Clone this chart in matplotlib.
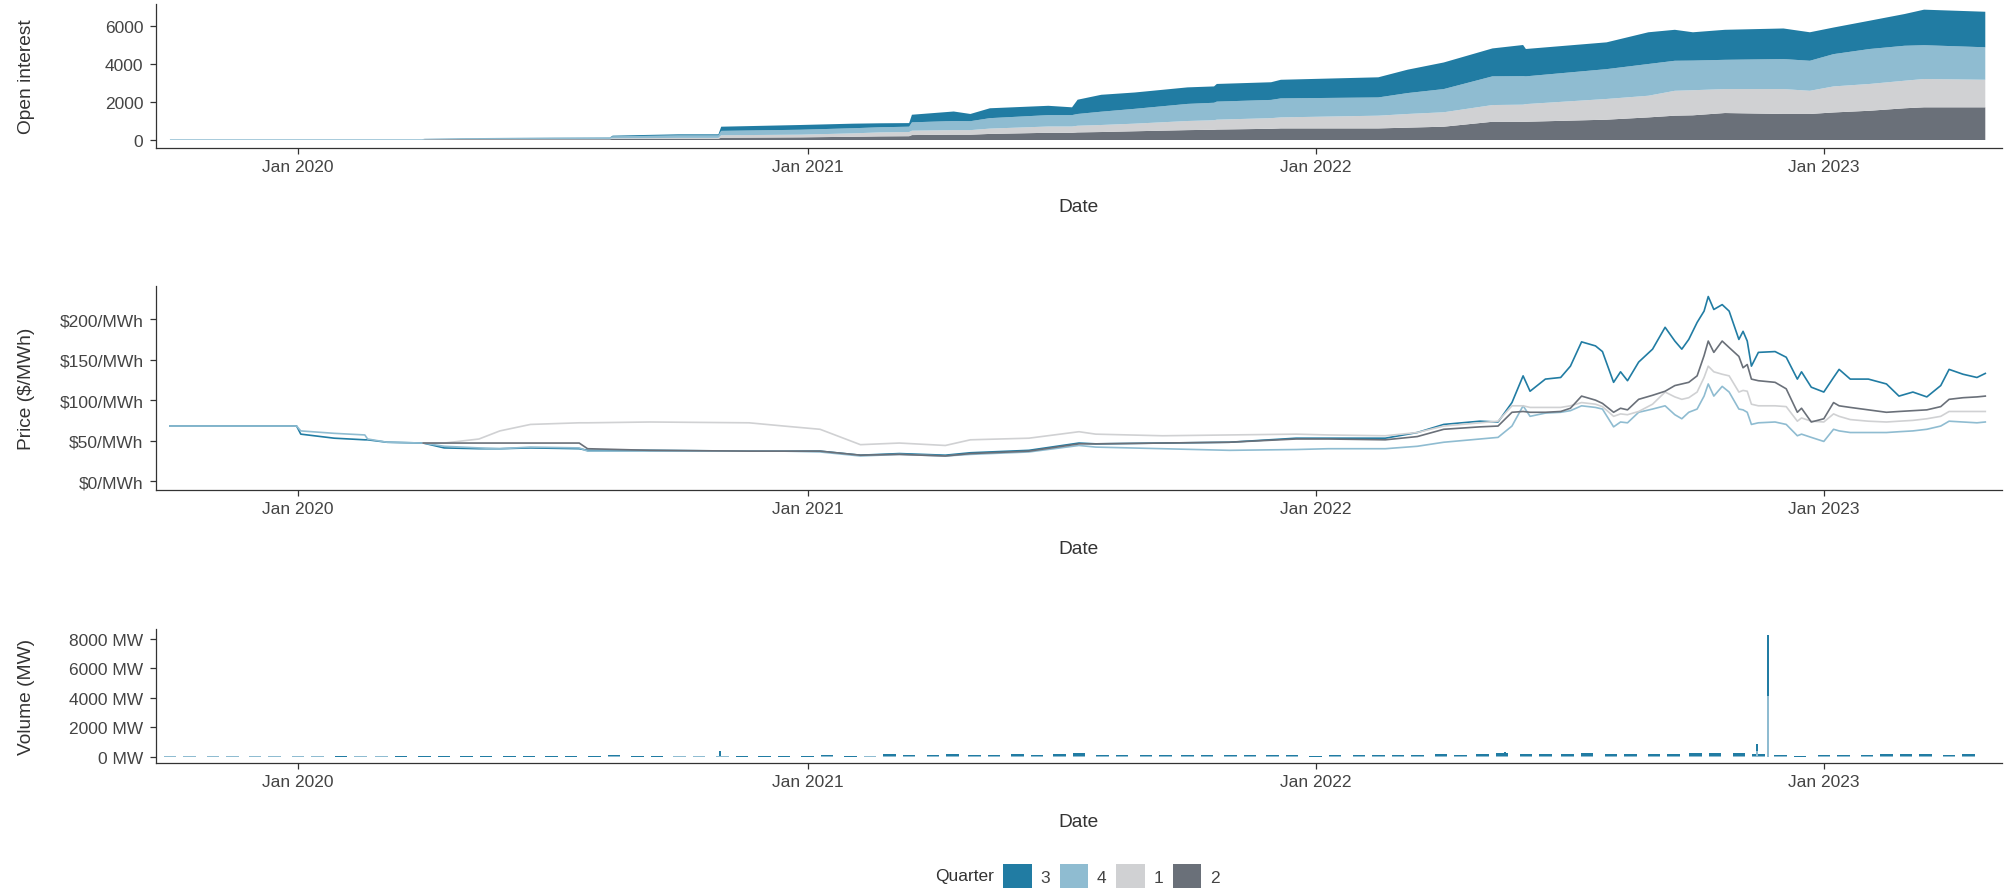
import numpy as np
import pandas as pd
import matplotlib
matplotlib.use("Agg")
import matplotlib.pyplot as plt
import matplotlib.dates as mdates
from matplotlib.patches import Patch

plt.rcParams["font.family"] = ["Liberation Sans", "DejaVu Sans"]

nan = np.nan

# ── Colours per quarter ───────────────────────────────────────────────────────
COL = {"3": "#217ca3", "4": "#8fbcd1", "1": "#d0d1d3", "2": "#6a7079"}
LEGEND_ORDER = ["3", "4", "1", "2"]

# ── Open interest (stacked area) ──────────────────────────────────────────────
oi_dates = [
    "2019-10-01", "2020-03-30", "2020-04-01", "2020-04-28", "2020-08-12",
    "2020-08-14", "2020-09-30", "2020-10-29", "2020-10-31", "2020-12-27",
    "2021-02-03", "2021-02-22", "2021-03-15", "2021-03-17", "2021-04-16",
    "2021-04-28", "2021-05-12", "2021-06-23", "2021-07-10", "2021-07-14",
    "2021-07-31", "2021-08-24", "2021-10-01", "2021-10-20", "2021-10-22",
    "2021-11-30", "2021-12-07", "2022-02-15", "2022-03-08", "2022-04-03",
    "2022-05-08", "2022-05-30", "2022-06-01", "2022-07-29", "2022-08-28",
    "2022-09-16", "2022-09-29", "2022-10-22", "2022-12-03", "2022-12-22",
    "2023-01-08", "2023-02-03", "2023-02-28", "2023-03-14", "2023-04-27",
]
oi_q2 = [0, 0, 30, 40, 40, 60, 70, 70, 120, 140, 170, 190, 200, 260, 280,
         280, 320, 380, 380, 400, 420, 460, 520, 540, 550, 590, 610, 610, 650,
         700, 960, 960, 960, 1070, 1190, 1280, 1300, 1420, 1370, 1370, 1450,
         1540, 1670, 1720, 1720]
oi_q1 = [0, 0, 0, 10, 15, 30, 40, 40, 130, 140, 180, 210, 220, 230, 240,
         240, 280, 330, 330, 350, 370, 400, 480, 500, 520, 560, 580, 670, 720,
         760, 880, 900, 930, 1090, 1140, 1310, 1320, 1260, 1310, 1220, 1370,
         1410, 1450, 1490, 1450]
oi_q4 = [40, 40, 40, 40, 60, 100, 130, 130, 230, 260, 270, 270, 280, 440,
         480, 470, 550, 600, 600, 620, 700, 780, 900, 920, 950, 960, 1000, 960,
         1100, 1220, 1510, 1500, 1460, 1570, 1670, 1580, 1560, 1540, 1580,
         1580, 1700, 1840, 1840, 1780, 1710]
oi_q3 = [0, 0, 0, 10, 20, 40, 60, 60, 220, 250, 240, 210, 190, 400, 500,
         380, 520, 490, 410, 750, 890, 860, 870, 860, 930, 930, 980, 1060,
         1230, 1400, 1470, 1640, 1440, 1410, 1670, 1630, 1490, 1580, 1610,
         1500, 1400, 1490, 1670, 1870, 1870]

# ── Price ($/MWh) ─────────────────────────────────────────────────────────────
price_dates = [
    "2019-10-01", "2019-12-31", "2020-01-03", "2020-01-27", "2020-02-18",
    "2020-02-20", "2020-03-05", "2020-03-31", "2020-04-15", "2020-05-10",
    "2020-05-25", "2020-06-16", "2020-07-21", "2020-07-27", "2020-09-10",
    "2020-11-20", "2020-12-15", "2021-01-10", "2021-02-08", "2021-03-08",
    "2021-04-10", "2021-04-28", "2021-06-09", "2021-07-15", "2021-07-27",
    "2021-09-13", "2021-10-31", "2021-12-18", "2022-01-10", "2022-02-20",
    "2022-03-15", "2022-04-03", "2022-04-29", "2022-05-12", "2022-05-22",
    "2022-05-30", "2022-06-04", "2022-06-15", "2022-06-26", "2022-07-03",
    "2022-07-11", "2022-07-21", "2022-07-26", "2022-08-03", "2022-08-08",
    "2022-08-13", "2022-08-21", "2022-08-31", "2022-09-09", "2022-09-16",
    "2022-09-21", "2022-09-26", "2022-10-02", "2022-10-07", "2022-10-10",
    "2022-10-14", "2022-10-20", "2022-10-25", "2022-11-01", "2022-11-04",
    "2022-11-07", "2022-11-10", "2022-11-15", "2022-11-27", "2022-12-05",
    "2022-12-13", "2022-12-16", "2022-12-23", "2023-01-01", "2023-01-08",
    "2023-01-12", "2023-01-20", "2023-02-02", "2023-02-15", "2023-02-24",
    "2023-03-06", "2023-03-16", "2023-03-26", "2023-04-01", "2023-04-11",
    "2023-04-21", "2023-04-27",
]
price_q3 = [68, 68, 58, 53, 51, 51, 48, 47, 41, 40, 40, 41, 40, 38, 38, 37,
            37, 37, 32, 34, 32, 35, 38, 47, 46, 47, 48, 53, 53, 53, 60, 70,
            74, 73, 97, 130, 111, 126, 128, 142, 172, 167, 160, 122, 135, 124,
            147, 163, 190, 173, 163, 175, 196, 210, 228, 212, 218, 210, 175,
            185, 173, 142, 159, 160, 153, 126, 135, 116, 110, 128, 138, 126,
            126, 120, 105, 110, 104, 118, 138, 132, 128, 133]
price_q4 = [68, 68, 62, 59, 57, 52, 48, 47, 43, 41, 40, 42, 41, 37, 37, 37,
            37, 36, 31, 33, 31, 33, 36, 44, 42, 40, 38, 39, 40, 40, 43, 48,
            52, 54, 68, 93, 80, 84, 85, 87, 93, 91, 89, 67, 73, 72, 85, 89,
            93, 82, 77, 85, 89, 105, 120, 105, 117, 110, 89, 88, 85, 70, 72,
            73, 70, 56, 58, 54, 49, 64, 62, 60, 60, 60, 61, 62, 64, 68, 74,
            73, 72, 73]
price_q1 = [nan, nan, nan, nan, nan, nan, nan, 47, 47, 52, 62, 70, 72, 72,
            73, 72, 68, 64, 45, 47, 44, 51, 53, 61, 58, 56, 57, 58, 57, 56,
            60, 68, 72, 74, 93, 93, 91, 91, 91, 93, 97, 95, 92, 80, 83, 82, 86,
            95, 110, 104, 101, 103, 110, 128, 142, 135, 132, 130, 110, 112,
            111, 95, 93, 93, 92, 74, 78, 74, 73, 83, 80, 76, 74, 73, 74, 75,
            77, 80, 86, 86, 86, 86]
price_q2 = [nan, nan, nan, nan, nan, nan, nan, 47, 47, 47, 47, 47, 47, 40,
            38, 37, 37, 37, 32, 33, 31, 34, 37, 46, 46, 47, 48, 52, 52, 51,
            55, 64, 67, 68, 85, 86, 85, 85, 86, 90, 105, 100, 96, 85, 90, 88,
            101, 106, 111, 118, 120, 122, 130, 155, 173, 159, 173, 165, 154,
            140, 144, 126, 124, 122, 114, 85, 90, 73, 77, 97, 93, 91, 88, 85,
            86, 87, 88, 92, 101, 103, 104, 105]

# ── Volume (MW), semi-monthly grid from Oct 2019 to Apr 2023 ──────────────────
vol_q3 = [
    15, 20, 15, 25, 20, 15,
    30, 25, 35, 30, 25, 30, 35, 30, 25, 30, 35, 25,
    30, 40, 30, 90, 45, 40, 60, 50, 60, 60, 45, 50,
    60, 70, 50, 60, 120, 80, 100, 150, 90, 110, 140, 80,
    120, 200, 100, 90, 80, 100, 90, 80, 110, 90, 80, 70,
    60, 70, 80, 90, 80, 100, 120, 110, 150, 180, 150, 130,
    140, 200, 150, 120, 130, 140, 160, 180, 170, 150, 110, 30,
    90, 100, 110, 120, 130, 150, 110, 120,
]
vol_q4 = [
    40, 45, 40, 50, 45, 40,
    35, 40, 30, 35, 40, 30, 20, 25, 30, 20, 25, 30,
    25, 20, 30, 40, 30, 25, 40, 35, 35, 30, 25, 30,
    30, 35, 30, 40, 50, 40, 50, 60, 40, 50, 60, 40,
    50, 80, 50, 40, 40, 50, 40, 40, 50, 40, 40, 35,
    30, 35, 40, 40, 40, 50, 60, 50, 70, 80, 70, 60,
    60, 90, 70, 60, 60, 70, 80, 90, 80, 70, 50, 30,
    40, 50, 50, 60, 60, 70, 50, 60,
]
# single-day trades that stand out
spike_dates = ["2020-10-30", "2022-05-17", "2022-11-14", "2022-11-22"]
spike_q3 = [330, 260, 500, 4100]
spike_q4 = [100, 100, 400, 4150]

# ── Build figure ──────────────────────────────────────────────────────────────
W, H = 2009, 895
fig = plt.figure(figsize=(W / 100, H / 100), dpi=100)

def px_axes(top, bottom, left=156, right=2002):
    return fig.add_axes([left / W, (H - bottom) / H,
                         (right - left) / W, (bottom - top) / H])

ax1 = px_axes(5, 149)
ax2 = px_axes(287, 491)
ax3 = px_axes(630, 764)

TICK_COL = "#444444"
TITLE_COL = "#333333"
SPINE_COL = "#333333"

xmin = pd.Timestamp("2019-09-21")
xmax = pd.Timestamp("2023-05-09")

for ax in (ax1, ax2, ax3):
    for s in ("top", "right"):
        ax.spines[s].set_visible(False)
    for s in ("left", "bottom"):
        ax.spines[s].set_color(SPINE_COL)
        ax.spines[s].set_linewidth(0.9)
    ax.set_xlim(xmin, xmax)
    ax.xaxis.set_major_locator(mdates.YearLocator(month=1, day=1))
    ax.xaxis.set_major_formatter(mdates.DateFormatter("%b %Y"))
    ax.tick_params(axis="both", colors=SPINE_COL, labelcolor=TICK_COL,
                   labelsize=12.5, length=4, width=0.9)
    ax.tick_params(axis="x", pad=4)
    ax.tick_params(axis="y", pad=5)
    ax.set_xlabel("Date", fontsize=13.8, color=TITLE_COL, labelpad=17.5)
    ax.patch.set_alpha(0)

# ── Panel 1: open interest ────────────────────────────────────────────────────
t_oi = pd.to_datetime(oi_dates)
ax1.stackplot(t_oi, oi_q2, oi_q1, oi_q4, oi_q3,
              colors=[COL["2"], COL["1"], COL["4"], COL["3"]], linewidth=0)
ax1.set_ylim(-421, 7158)
ax1.set_yticks([0, 2000, 4000, 6000])
ax1.set_ylabel("Open interest", fontsize=13.8, color=TITLE_COL)

# ── Panel 2: price ────────────────────────────────────────────────────────────
t_p = pd.to_datetime(price_dates)
for q, vals in (("3", price_q3), ("4", price_q4), ("1", price_q1), ("2", price_q2)):
    ax2.plot(t_p, vals, color=COL[q], linewidth=1.2)
ax2.set_ylim(-11, 241)
ax2.set_yticks([0, 50, 100, 150, 200])
ax2.set_yticklabels([f"${v}/MWh" for v in [0, 50, 100, 150, 200]])
ax2.set_ylabel("Price ($/MWh)", fontsize=13.8, color=TITLE_COL)

# ── Panel 3: volume ───────────────────────────────────────────────────────────
t_v = pd.date_range("2019-10-01", "2023-04-15", freq="SMS")
ax3.bar(t_v, vol_q4, width=9, color=COL["4"], linewidth=0)
ax3.bar(t_v, vol_q3, width=9, bottom=vol_q4, color=COL["3"], linewidth=0)
t_s = pd.to_datetime(spike_dates)
ax3.bar(t_s, spike_q4, width=1.6, color=COL["4"], linewidth=0)
ax3.bar(t_s, spike_q3, width=1.6, bottom=spike_q4, color=COL["3"], linewidth=0)
ax3.set_ylim(-407, 8678)
ax3.set_yticks([0, 2000, 4000, 6000, 8000])
ax3.set_yticklabels([f"{v} MW" for v in [0, 2000, 4000, 6000, 8000]])
ax3.set_ylabel("Volume (MW)", fontsize=13.8, color=TITLE_COL)

for ax in (ax1, ax2, ax3):
    ax.yaxis.set_label_coords(-0.0655, 0.5)

# ── Legend ────────────────────────────────────────────────────────────────────
handles = [Patch(facecolor=COL[q], edgecolor="none") for q in LEGEND_ORDER]
fig.legend(handles, LEGEND_ORDER, loc="center left",
           bbox_to_anchor=(1003 / W, 1 - 877 / H), ncol=4, frameon=False,
           fontsize=12.5, handlelength=1.65, handleheight=1.75,
           handletextpad=0.5, columnspacing=0.55, borderpad=0,
           borderaxespad=0, labelcolor=TICK_COL)
fig.text(994 / W, 1 - 877 / H, "Quarter", ha="right", va="center",
         fontsize=12.5, color=TITLE_COL)

fig.savefig("out.png", dpi=100, facecolor="white")
plt.close(fig)
